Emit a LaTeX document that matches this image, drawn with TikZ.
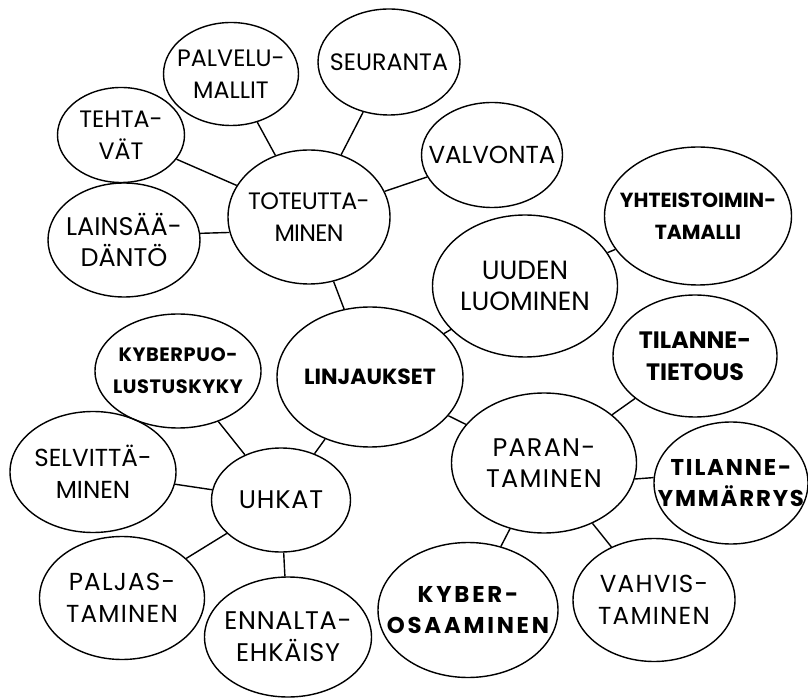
\documentclass[tikz,border=0pt]{standalone}
\usepackage{fontspec}
\setmainfont{Poppins}
\usetikzlibrary{shapes.geometric}

\tikzset{
  bub/.style 2 args={ellipse, draw, line width=0.8pt, inner sep=-2cm,
    minimum width=#1*0.2mm, minimum height=#2*0.2mm, align=center},
}

\begin{document}
\begin{tikzpicture}[x=0.2mm, y=-0.2mm]
\useasboundingbox (0,0) rectangle (808,700);
% plain bubbles
\foreach \n/\x/\y/\w/\h/\s/\l/\t in {palv/231/74/135/103/13.5/0/{PALVELU-\\MALLIT},
    seur/389/62/142/106/13.5/0/{SEURANTA}, teht/121/135/127/95/13.5/0/{TEHTA-\\VÄT},
    lain/124/240/152/114/14.5/0/{LAINSÄÄ-\\DÄNTÖ}, tot/309/217/162/134/13.5/-3/{TOTEUTTA-\\MINEN},
    valv/492/155/141/105/14/0/{VALVONTA}, uud/525/286/185/142/15/0/{UUDEN\\LUOMINEN},
    selv/93/472/166/121/14/0/{SELVITTÄ-\\MINEN}, uhk/281/500/139/104/14.5/3/{UHKAT},
    palj/122/598/165/123/14/5/{PALJAS-\\TAMINEN}, enn/288/637/167/120/14.5/3/{ENNALTA-\\EHKÄISY},
    par/544/463/185/140/14.5/5/{PARAN-\\TAMINEN}, vahv/654/600/162/123/14/5/{VAHVIS-\\TAMINEN}}
  \node[bub={\w}{\h}, font=\fontsize{\s}{18}\selectfont\addfontfeature{LetterSpace=\l}] (\n) at (\x,\y) {\t};
% bold bubbles
\foreach \n/\x/\y/\w/\h/\s/\l/\t in {linj/370/377/186/140/12.5/0/{LINJAUKSET},
    yht/698/216/187/138/11.6/0/{YHTEISTOIMIN-\\TAMALLI},
    tiet/695/356/164/122/13.5/0/{TILANNE-\\TIETOUS},
    kpuo/178/371/166/114/11/3/{KYBERPUO-\\LUSTUSKYKY},
    ymm/731/483/154/122/13/8/{TILANNE-\\YMMÄRRYS},
    kos/468/610/180/135/13/12/{KYBER-\\OSAAMINEN}}
  \node[bub={\w}{\h}, font=\bfseries\fontsize{\s}{18}\selectfont\addfontfeature{LetterSpace=\l}] (\n) at (\x,\y) {\t};
% connectors
\foreach \a/\b in {tot/palv, tot/seur, tot/teht, tot.191/lain.5, tot/valv, tot/linj,
    linj/uud, linj/par, linj/uhk, uud/yht, par/tiet, par.350.6/ymm.176, par/kos, par/vahv,
    uhk/kpuo, uhk/selv, uhk/palj, uhk/enn}
  \draw[line width=0.8pt] (\a) -- (\b);
\end{tikzpicture}
\end{document}
